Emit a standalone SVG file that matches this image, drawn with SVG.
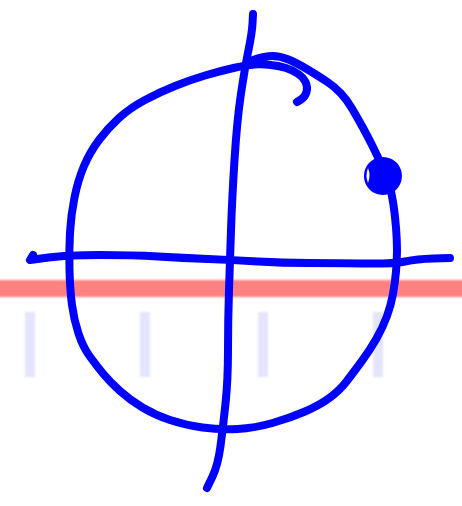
<svg xmlns="http://www.w3.org/2000/svg" width="462" height="506" viewBox="0 0 462 506">
<style>
.ink{fill:none;stroke:#0000ff;stroke-width:8;stroke-linecap:round;stroke-linejoin:round}
.tick{fill:#e4e4ff}
</style>
<defs>
<filter id="soft" x="-10%" y="-10%" width="120%" height="120%"><feGaussianBlur stdDeviation="1"/></filter>
</defs>
<rect width="462" height="506" fill="#ffffff"/>
<g id="background" filter="url(#soft)">
<rect x="-5" y="280" width="472" height="17" fill="#ff8080"/>
<rect class="tick" x="25" y="312" width="10" height="65"/>
<rect class="tick" x="140" y="312" width="10" height="65"/>
<rect class="tick" x="258" y="312" width="10" height="65"/>
<rect class="tick" x="373" y="312" width="10" height="65"/>
</g>
<g id="sketch">
<path id="circle" class="ink" d="M297,102 L301,99.5 Q305,97 306.5,92 Q308,87 305.5,82 Q303,77 297.5,73.5 Q292,70 286,68 Q280,66 271,65 Q262,64 254.5,64.5 Q247,65 233.5,68 Q220,71 205,75.5 Q190,80 175,86 Q160,92 145,100 Q130,108 119,118 Q108,128 99,140 Q90,152 84,166 Q78,180 74.5,197.5 Q71,215 70,232.5 Q69,250 69.5,270 Q70,290 72,305 Q74,320 78.5,333.5 Q83,347 89.5,356 Q96,365 103,373.5 Q110,382 120,391 Q130,400 142.5,407.5 Q155,415 170,420 Q185,425 202.5,427.5 Q220,430 237.5,429 Q255,428 272.5,423 Q290,418 305,411.5 Q320,405 330,397.5 Q340,390 346.5,381.5 Q353,373 361.5,361.5 Q370,350 376.5,338.5 Q383,327 387,316 Q391,305 393,294 Q395,283 396,271.5 Q397,260 397,250 Q397,240 396,227.5 Q395,215 393.5,205 Q392,195 390,187.5 Q388,180 383,168.5 Q378,157 372.5,146 Q367,135 362,126 Q357,117 352,108.5 Q347,100 341,93.5 Q335,87 327.5,82 Q320,77 308.5,70 Q297,63 288.5,59.5 Q280,56 272.5,56 Q265,56 253,60"/>
<path id="blob" d="M383,157 a19,19 0 1,1 -0.1,0 Z M368,168 q-3,8 0,15 q3,-8 0,-15 Z" fill="#0000ff" fill-rule="evenodd"/>
<path id="vaxis" class="ink" d="M253,14 L252.5,23.5 Q252,33 248.5,50 Q245,67 241,93.5 Q237,120 234.5,160 Q232,200 231,230 Q230,260 229,290 Q228,320 228,350 Q228,380 225.5,403.5 Q223,427 220.5,446 Q218,465 212.5,476.5 L207,488"/>
<path id="haxis" class="ink" d="M33,255 L30,260 L48.5,257.5 Q67,255 100,255 Q133,255 158,256.5 Q183,258 208,259 Q233,260 258,261.5 Q283,263 308,263 Q333,263 363,263.5 Q393,264 405,261.5 Q417,259 433.5,258.5 L450,258"/>
</g>
</svg>
